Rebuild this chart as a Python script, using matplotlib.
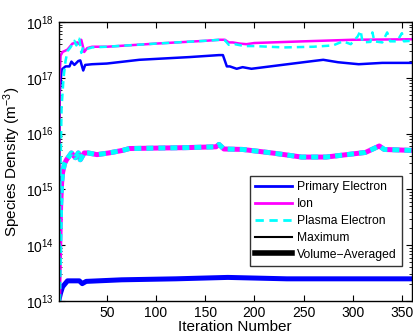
import matplotlib
matplotlib.use("Agg")
from matplotlib import pyplot as plt

plt.rcParams['font.family'] = ['Liberation Sans', 'DejaVu Sans']
plt.rcParams['mathtext.fontset'] = 'custom'
plt.rcParams['mathtext.rm'] = 'Liberation Sans'
plt.rcParams['mathtext.it'] = 'Liberation Sans:italic'

# maximum densities (thin lines)
ion_max_it = [1, 2, 3, 5, 10, 15, 20, 22, 24, 27, 30, 35, 50, 100, 150, 165, 170,
              174, 178, 185, 192, 200, 250, 300, 360]
ion_max = [1e14, 1e17, 2.5e17, 2.9e17, 3.2e17, 4.1e17, 4.3e17, 4.0e17, 4.8e17, 2.9e17,
           3.4e17, 3.6e17, 3.6e17, 4.1e17, 4.6e17, 4.8e17, 4.8e17,
           4.3e17, 4.3e17, 4.1e17, 4.0e17, 4.2e17, 4.5e17, 4.8e17, 4.9e17]

plasma_max_it = [1, 2, 3, 4, 6, 8, 10, 13, 17, 19, 22, 24, 26, 30, 35, 50, 100, 150, 165,
                 170, 174, 180, 190, 200, 230, 260, 280, 290, 298, 305, 308, 310,
                 318, 320, 322, 330, 335, 338, 345, 350, 352, 360]
plasma_max = [1e13, 1e14, 3e15, 3e16, 1e17, 2e17, 3e17, 3.5e17, 4.6e17, 3.8e17, 5e17, 2.8e17,
              3.6e17, 3.3e17, 3.5e17, 3.6e17, 4.1e17, 4.6e17, 4.8e17,
              4.7e17, 3.9e17, 4.0e17, 3.7e17, 3.7e17, 3.5e17, 3.6e17, 3.8e17, 4.5e17,
              4.0e17, 5.5e17, 7.0e17, 4.3e17, 4.4e17, 6.5e17, 4.5e17, 4.3e17, 6.5e17,
              4.5e17, 4.5e17, 6.3e17, 4.5e17, 4.6e17]

primary_max_it = [1, 2, 4, 8, 12, 14, 17, 21, 23, 26, 28, 35, 50, 83, 134, 164, 168,
                  172, 175, 182, 188, 197, 228, 260, 270, 285, 306, 330, 360]
primary_max = [1e14, 5e16, 1.4e17, 1.6e17, 1.6e17, 1.95e17, 1.7e17, 2.0e17, 2.05e17, 1.35e17,
               1.7e17, 1.75e17, 1.8e17, 2.1e17, 2.35e17, 2.55e17, 2.55e17,
               1.6e17, 1.6e17, 1.45e17, 1.55e17, 1.45e17, 1.7e17, 2.0e17, 2.1e17,
               1.9e17, 1.75e17, 1.85e17, 1.85e17]

# volume-averaged densities (thick lines)
ion_avg_it = [1, 2, 3, 4, 5, 7, 9, 14, 18, 21, 23, 27, 31, 40, 52, 66, 73, 100, 130,
              161, 164, 169, 188, 218, 248, 273, 313, 327, 332, 360]
ion_avg = [1e13, 8e13, 5e14, 1.3e15, 2e15, 2.9e15, 3.4e15, 4.5e15, 3.7e15, 4.5e15, 3.4e15,
           4.5e15, 4.5e15, 4.2e15, 4.5e15, 5e15, 5.4e15, 5.5e15, 5.6e15,
           5.8e15, 6.4e15, 5.3e15, 5.2e15, 4.5e15, 3.8e15, 3.8e15, 4.6e15, 6.0e15,
           5.2e15, 5.0e15]
plasma_avg = ion_avg

primary_avg_it = [1, 3, 5, 10, 22, 25, 29, 65, 120, 173, 233, 300, 360]
primary_avg = [1e13, 1.4e13, 1.8e13, 2.3e13, 2.3e13, 2.05e13, 2.25e13, 2.4e13, 2.5e13,
               2.65e13, 2.5e13, 2.5e13, 2.5e13]

blue = '#0000ff'
magenta = '#ff00ff'
cyan = '#00ffff'

fig = plt.figure(figsize=(4.13, 3.33), dpi=100)
ax = fig.add_axes([0.142, 0.096, 0.855, 0.838])

thin = 1.8
thick = 3.6
ax.plot(primary_avg_it, primary_avg, color=blue, lw=thick)
ax.plot(ion_avg_it, ion_avg, color=magenta, lw=thick)
ax.plot(ion_avg_it, plasma_avg, color=cyan, lw=thick, ls=(0, (1.4, 1.0)))
ax.plot(primary_max_it, primary_max, color=blue, lw=thin)
ax.plot(ion_max_it, ion_max, color=magenta, lw=thin)
ax.plot(plasma_max_it, plasma_max, color=cyan, lw=thin, ls=(0, (3, 2)))

ax.set_yscale('log')
ax.set_xlim(1, 360)
ax.set_ylim(1e13, 1e18)
ax.set_xticks([50, 100, 150, 200, 250, 300, 350])
ax.tick_params(which='both', direction='in', top=True, right=True, labelsize=10)
ax.tick_params(which='major', length=4)
ax.tick_params(which='minor', length=2)
for s in ax.spines.values():
    s.set_linewidth(1.0)

ax.set_xlabel('Iteration Number', fontsize=11, labelpad=0)
ax.set_ylabel('Species Density (m$^{-3}$)', fontsize=11, labelpad=2)

handles = [
    plt.Line2D([], [], color=blue, lw=2),
    plt.Line2D([], [], color=magenta, lw=2),
    plt.Line2D([], [], color=cyan, lw=2, ls=(0, (3, 2))),
    plt.Line2D([], [], color='black', lw=1.5),
    plt.Line2D([], [], color='black', lw=4),
]
labels = ['Primary Electron', 'Ion', 'Plasma Electron', 'Maximum', 'Volume\u2212Averaged']
leg = ax.legend(handles, labels, loc='lower right', bbox_to_anchor=(0.972, 0.125),
                fontsize=8.7, frameon=True, fancybox=False, handlelength=3.1,
                handletextpad=0.35, labelspacing=0.4, borderpad=0.45, borderaxespad=0)
leg.get_frame().set_edgecolor('black')
leg.get_frame().set_linewidth(1.0)

fig.savefig('out.png', dpi=100)
